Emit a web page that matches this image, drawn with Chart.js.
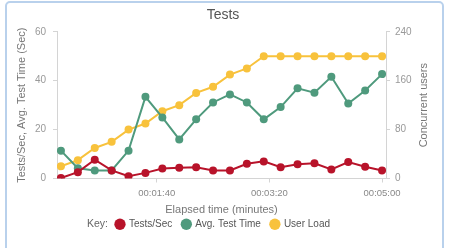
<!DOCTYPE html>
<html lang="en">
<head>
<meta charset="UTF-8">
<title>Tests</title>
<script src="https://cdn.jsdelivr.net/npm/chart.js"></script>
<style>
  body { margin: 0; background: #fff; }
  .card { position: absolute; left: 5px; top: 1px; width: 435px; height: 262px; border: 2px solid #b9d1ec; border-radius: 5px; }
  #wrap { position: absolute; left: 0; top: 0; width: 449px; height: 248px; }
</style>
</head>
<body>
<div class="card"></div>
<div id="wrap"><canvas id="chart"></canvas></div>
<script>
// elapsed seconds of each sample
const elapsedSec = [15, 30, 45, 60, 75, 90, 105, 120, 135, 150, 165, 180, 195, 210, 225, 240, 255, 270, 285, 300];
const testsPerSec = [0.2, 2.6, 7.7, 3.3, 0.9, 2.3, 4.1, 4.4, 4.6, 3.3, 3.3, 6.0, 7.0, 4.6, 5.8, 6.2, 3.7, 6.7, 4.8, 3.3];
const avgTestTime = [11.4, 4.2, 3.3, 3.3, 11.4, 33.4, 25.0, 16.0, 24.2, 31.1, 34.4, 31.1, 24.2, 29.2, 36.9, 35.1, 41.6, 30.7, 36.0, 42.7];
const userLoad = [20, 30, 50, 60, 80, 90, 110, 120, 140, 150, 170, 180, 200, 200, 200, 200, 200, 200, 200, 200];
const timeTicks = [100, 200, 300];

const FONT = 'Liberation Sans';

function fmtTime(s) {
  const h = Math.floor(s / 3600), m = Math.floor(s / 60) % 60, sec = s % 60;
  const p = n => String(n).padStart(2, '0');
  return p(h) + ':' + p(m) + ':' + p(sec);
}

function series(label, values, color, axis) {
  return {
    label: label,
    data: elapsedSec.map((t, i) => ({ x: t, y: values[i] })),
    borderColor: color,
    backgroundColor: color,
    borderWidth: 2,
    pointRadius: 4,
    pointHoverRadius: 4,
    pointBorderWidth: 0,
    yAxisID: axis
  };
}

// "Key:" in front of the legend and the right axis title (reads bottom to top)
const extras = {
  id: 'extras',
  afterDraw(chart) {
    const ctx = chart.ctx;
    ctx.save();
    ctx.font = '10.5px ' + FONT;
    ctx.fillStyle = '#666';
    const box = chart.legend.legendHitBoxes[0];
    if (box) {
      ctx.textAlign = 'right';
      ctx.textBaseline = 'middle';
      ctx.fillText('Key:', box.left - 8, box.top + box.height / 2);
    }
    ctx.font = '11px ' + FONT;
    const a = chart.chartArea;
    ctx.translate(424, (a.top + a.bottom) / 2);
    ctx.rotate(-Math.PI / 2);
    ctx.textAlign = 'center';
    ctx.fillStyle = '#777';
    ctx.fillText('Concurrent users', 0, 0);
    ctx.restore();
  }
};

new Chart(document.getElementById('chart'), {
  type: 'line',
  data: {
    datasets: [
      series('Tests/Sec', testsPerSec, '#b8132a', 'y'),
      series('Avg. Test Time', avgTestTime, '#4f9a7d', 'y'),
      series('User Load', userLoad, '#f8c23c', 'y1')
    ]
  },
  options: {
    responsive: true,
    maintainAspectRatio: false,
    animation: false,
    layout: { padding: { left: 11, right: 14, top: 0, bottom: 8.75 } },
    plugins: {
      title: { display: true, text: 'Tests', color: '#555', font: { family: FONT, size: 14, weight: 'normal' }, padding: { top: 7, bottom: 8 } },
      legend: {
        position: 'bottom',
        labels: { usePointStyle: true, pointStyle: 'circle', boxWidth: 8, boxHeight: 8, color: '#555', font: { family: FONT, size: 10 }, padding: 10 }
      },
      tooltip: { enabled: false }
    },
    scales: {
      x: {
        type: 'linear',
        min: 11.5,
        max: 303.5,
        afterBuildTicks: s => { s.ticks = timeTicks.map(v => ({ value: v })); },
        ticks: { callback: v => fmtTime(v), color: '#888', font: { family: FONT, size: 9.5 }, padding: 5, maxRotation: 0, autoSkip: false },
        grid: { drawOnChartArea: false, tickLength: 4, color: '#d4d4d4' },
        border: { color: '#d4d4d4' },
        title: { display: true, text: 'Elapsed time (minutes)', color: '#777', font: { family: FONT, size: 11 }, padding: { top: 0, bottom: -7.5 } },
        afterFit: s => { s.height = 30.75; }
      },
      y: {
        position: 'left',
        min: 0,
        max: 60,
        ticks: { stepSize: 20, color: '#999', font: { family: FONT, size: 10 }, padding: 7 },
        grid: { drawOnChartArea: false, tickLength: 4, color: '#d4d4d4' },
        border: { color: '#d4d4d4' },
        title: { display: true, text: 'Tests/Sec, Avg. Test Time (Sec)', color: '#777', font: { family: FONT, size: 11 }, padding: 4 },
        afterFit: s => { s.width = 46; }
      },
      y1: {
        position: 'right',
        min: 0,
        max: 240,
        ticks: { stepSize: 80, color: '#999', font: { family: FONT, size: 10 }, padding: 5 },
        grid: { drawOnChartArea: false, tickLength: 4, color: '#d4d4d4' },
        border: { color: '#d4d4d4' },
        afterFit: s => { s.width = 49; }
      }
    }
  },
  plugins: [extras]
});
</script>
</body>
</html>
